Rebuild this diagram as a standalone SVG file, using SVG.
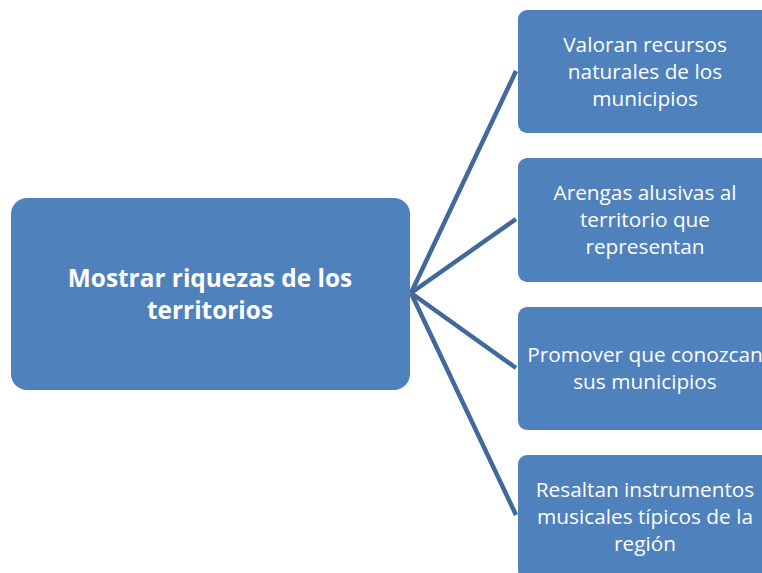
<svg xmlns="http://www.w3.org/2000/svg" width="762" height="573" viewBox="0 0 762 573">
<style>
.box{fill:#4F81BD;}
.t{font-family:"Open Sans","Liberation Sans",sans-serif;font-size:20.8px;fill:#ffffff;text-anchor:middle;}
.tb{font-family:"Open Sans","Liberation Sans",sans-serif;font-size:24.4px;font-weight:bold;fill:#ffffff;text-anchor:middle;}
.c{stroke:#41699C;stroke-width:4.5;fill:none;}
</style>
<rect width="762" height="573" fill="#ffffff"/>
<g id="connectors">
<line class="c" x1="411" y1="293" x2="516" y2="71"/>
<line class="c" x1="411" y1="293" x2="516" y2="219"/>
<line class="c" x1="411" y1="293" x2="516" y2="368"/>
<line class="c" x1="411" y1="293" x2="516" y2="515"/>
</g>
<g id="main">
<rect class="box" x="11" y="198" width="399" height="192" rx="16"/>
<text class="tb" x="210" y="287">Mostrar riquezas de los</text>
<text class="tb" x="210" y="319">territorios</text>
</g>
<g id="n1">
<rect class="box" x="518" y="10" width="256" height="123" rx="9"/>
<text class="t" x="645" y="52">Valoran recursos</text>
<text class="t" x="645" y="79">naturales de los</text>
<text class="t" x="645" y="106">municipios</text>
</g>
<g id="n2">
<rect class="box" x="518" y="158" width="256" height="124" rx="9"/>
<text class="t" x="645" y="200">Arengas alusivas al</text>
<text class="t" x="645" y="227">territorio que</text>
<text class="t" x="645" y="254">representan</text>
</g>
<g id="n3">
<rect class="box" x="518" y="307" width="256" height="123" rx="9"/>
<text class="t" x="645" y="362">Promover que conozcan</text>
<text class="t" x="645" y="389">sus municipios</text>
</g>
<g id="n4">
<rect class="box" x="518" y="455" width="256" height="124" rx="9"/>
<text class="t" x="645" y="497">Resaltan instrumentos</text>
<text class="t" x="645" y="524">musicales típicos de la</text>
<text class="t" x="645" y="551">región</text>
</g>
</svg>
